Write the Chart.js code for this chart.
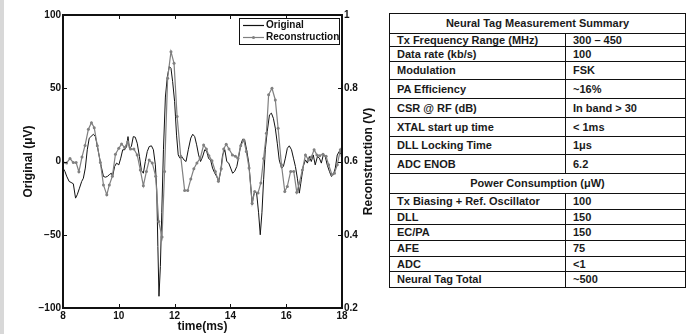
<!DOCTYPE html>
<html>
<head>
<meta charset="utf-8">
<script src="https://cdn.jsdelivr.net/npm/chart.js@4.4.1/dist/chart.umd.min.js"></script>
<style>
  html, body { margin: 0; padding: 0; background: #fff; }
  body { width: 696px; height: 334px; position: relative; overflow: hidden; font-family: "Liberation Sans", Arial, sans-serif; }
  .edge { position: absolute; left: 0; top: 0; width: 4px; height: 334px; background: #d8d8d8; }
  #chart-wrap { position: absolute; left: 0; top: 0; width: 382px; height: 334px; }
  table.summary { position: absolute; left: 389px; top: 13px; width: 297px; border-collapse: collapse; table-layout: fixed;
    font-weight: bold; font-size: 11px; color: #1a1a1a; }
  .summary td { border: 1px solid #111; padding: 0 0 0 7px; line-height: 11px; white-space: nowrap; overflow: hidden; }
  .summary td.head { text-align: center; padding: 0; }
</style>
</head>
<body>
<div class="edge"></div>
<div id="chart-wrap"><canvas id="sig" width="382" height="334"></canvas></div>

<table class="summary">
  <colgroup><col style="width:176px"><col></colgroup>
  <tr style="height:20px"><td class="head" colspan="2">Neural Tag Measurement Summary</td></tr>
  <tr style="height:13px"><td>Tx Frequency Range (MHz)</td><td>300 – 450</td></tr>
  <tr style="height:15px"><td>Data rate (kb/s)</td><td>100</td></tr>
  <tr style="height:18px"><td>Modulation</td><td>FSK</td></tr>
  <tr style="height:19px"><td>PA Efficiency</td><td>~16%</td></tr>
  <tr style="height:19px"><td>CSR @ RF (dB)</td><td>In band &gt; 30</td></tr>
  <tr style="height:19px"><td>XTAL start up time</td><td>&lt; 1ms</td></tr>
  <tr style="height:18px"><td>DLL Locking Time</td><td>1μs</td></tr>
  <tr style="height:19px"><td>ADC ENOB</td><td>6.2</td></tr>
  <tr style="height:20px"><td class="head" colspan="2">Power Consumption (μW)</td></tr>
  <tr style="height:16px"><td>Tx Biasing + Ref. Oscillator</td><td>100</td></tr>
  <tr style="height:15px"><td>DLL</td><td>150</td></tr>
  <tr style="height:16px"><td>EC/PA</td><td>150</td></tr>
  <tr style="height:16px"><td>AFE</td><td>75</td></tr>
  <tr style="height:15px"><td>ADC</td><td>&lt;1</td></tr>
  <tr style="height:16px"><td>Neural Tag Total</td><td>~500</td></tr>
</table>

<script>
// original recording, time in ms / amplitude in uV
const origTime = [
  8.0, 8.07, 8.13, 8.22, 8.29, 8.37, 8.45, 8.51, 8.59, 8.67,
  8.73, 8.8, 8.87, 8.94, 9.0, 9.09, 9.16, 9.23, 9.3, 9.37,
  9.45, 9.52, 9.59, 9.66, 9.73, 9.78, 9.85, 9.92, 10.0, 10.07,
  10.14, 10.21, 10.28, 10.33, 10.38, 10.45, 10.52, 10.59, 10.66, 10.74,
  10.81, 10.88, 10.95, 11.02, 11.09, 11.17, 11.24, 11.31, 11.36, 11.4,
  11.44, 11.49, 11.54, 11.6, 11.67, 11.74, 11.81, 11.87, 11.93, 12.0,
  12.07, 12.13, 12.19, 12.27, 12.34, 12.41, 12.49, 12.58, 12.65, 12.72,
  12.79, 12.86, 12.93, 13.0, 13.08, 13.15, 13.22, 13.29, 13.36, 13.44,
  13.51, 13.58, 13.65, 13.72, 13.8, 13.87, 13.94, 14.01, 14.08, 14.15,
  14.23, 14.3, 14.37, 14.44, 14.51, 14.58, 14.66, 14.73, 14.78, 14.82,
  14.87, 14.94, 15.01, 15.07, 15.13, 15.19, 15.25, 15.32, 15.4, 15.47,
  15.54, 15.61, 15.68, 15.75, 15.83, 15.9, 15.97, 16.04, 16.11, 16.19,
  16.26, 16.33, 16.4, 16.47, 16.54, 16.61, 16.69, 16.76, 16.83, 16.9,
  16.97, 17.04, 17.12, 17.19, 17.26, 17.33, 17.4, 17.47, 17.55, 17.62,
  17.69, 17.76, 17.83, 17.9, 17.98
];
const origValue = [
  -4.5, -6.8, -10, -13.6, -14.3, -15.2, -25, -22.7, -18.2, -13.6,
  -11.4, -4.5, 8, 15.9, 17, 18.6, 17, 10.7, 3.4, -3.4,
  -10.2, -10.7, -10.2, -9, -8, -10, -3.4, -1.1, -2.3, 2.3,
  8, 8, 10.2, 17, 9, 10.2, 17, 16.6, 12.5, 3.4,
  -6.1, -8, 0, 6.8, 10.2, 10.7, 8, -2.3, -19.3, -58,
  -92, -71.6, -35, 8, 44, 58, 64.8, 63.6, 54.5, 41,
  18, 4.5, 2.3, 3, 1, 0, 8, 16, 18.6, 17,
  11.4, 4.5, 0, 3, 8, 7, 2, 1.1, -4.5, -8,
  -10.2, -13.6, -6.8, 4.5, 8, 0, -1.1, -4.5, -8, -6.8,
  -3.4, 3.4, 11.4, 15.2, 14.8, 8, -1.1, -17, -29.5, -23.9,
  -20.5, -21.6, -35, -50, -35, -12.5, 8, 20.5, 31.8, 33,
  29.5, 22.7, 12.5, 1.1, -4.5, -3.4, 2.3, 9, 10.7, 8,
  2.3, -3.4, -11.4, -21.6, -12.5, -3.4, 1.1, -1.1, 3.4, 0,
  4.5, -2.3, 3.4, 2.3, -1.1, 4.5, 3.4, -2.3, -6.8, -10.2,
  -9, -4.5, 4.5, 6.8, 4.5
];

// reconstructed signal, time in ms / volts (right axis)
const reconTime = [
  8.01, 8.13, 8.25, 8.37, 8.47, 8.57, 8.68, 8.79, 8.91, 9.02,
  9.12, 9.23, 9.34, 9.45, 9.57, 9.66, 9.77, 9.88, 10.0, 10.1,
  10.21, 10.32, 10.42, 10.54, 10.66, 10.77, 10.88, 10.99, 11.09, 11.2,
  11.32, 11.43, 11.55, 11.64, 11.75, 11.87, 11.98, 12.09, 12.22, 12.36,
  12.47, 12.58, 12.69, 12.8, 12.92, 13.04, 13.14, 13.23, 13.34, 13.46,
  13.57, 13.67, 13.76, 13.85, 13.95, 14.07, 14.18, 14.27, 14.37, 14.48,
  14.57, 14.67, 14.78, 14.87, 14.99, 15.09, 15.19, 15.29, 15.37, 15.49,
  15.61, 15.71, 15.83, 15.95, 16.04, 16.16, 16.27, 16.38, 16.47, 16.58,
  16.69, 16.8, 16.9, 17.0, 17.1, 17.2, 17.32, 17.43, 17.52, 17.64,
  17.73, 17.83, 17.94, 18.0
];
const reconValue = [
  0.597, 0.596, 0.608, 0.597, 0.597, 0.572, 0.612, 0.644, 0.688, 0.706,
  0.692, 0.643, 0.597, 0.536, 0.509, 0.536, 0.560, 0.620, 0.636, 0.648,
  0.638, 0.654, 0.634, 0.634, 0.618, 0.577, 0.534, 0.573, 0.604, 0.596,
  0.560, 0.436, 0.394, 0.573, 0.827, 0.900, 0.868, 0.723, 0.614, 0.521,
  0.521, 0.552, 0.580, 0.596, 0.609, 0.645, 0.634, 0.616, 0.602, 0.573,
  0.546, 0.580, 0.634, 0.647, 0.634, 0.618, 0.614, 0.609, 0.643, 0.659,
  0.627, 0.582, 0.486, 0.518, 0.514, 0.541, 0.608, 0.677, 0.782, 0.800,
  0.768, 0.691, 0.591, 0.518, 0.532, 0.573, 0.573, 0.516, 0.541, 0.577,
  0.618, 0.604, 0.612, 0.632, 0.618, 0.616, 0.620, 0.614, 0.591, 0.564,
  0.568, 0.591, 0.632, 0.616
];

const timeTicks = [8, 10, 12, 14, 16, 18];
const origTicks = [-100, -50, 0, 50, 100];
const reconTicks = [0.2, 0.4, 0.6, 0.8, 1];

const FONT = "'Liberation Sans', Arial, sans-serif";
const tickFont = { family: FONT, size: 10, weight: "bold" };
const INK = "#111";

const toPoints = (xs, ys) => xs.map((x, i) => ({ x: x, y: ys[i] }));
const fixTicks = (list) => (scale) => { scale.ticks = list.map(v => ({ value: v })); };

// matlab style frame, inward ticks, right label and boxed legend
const matlabFrame = {
  id: "matlabFrame",
  afterDatasetsDraw(chart) {
    const { ctx, chartArea: a, scales } = chart;
    ctx.save();
    ctx.strokeStyle = INK;
    ctx.lineWidth = 1;
    ctx.beginPath();
    scales.x.ticks.forEach(t => {
      const px = Math.round(scales.x.getPixelForValue(t.value)) + 0.5;
      ctx.moveTo(px, a.bottom); ctx.lineTo(px, a.bottom - 4);
      ctx.moveTo(px, a.top); ctx.lineTo(px, a.top + 4);
    });
    scales.y.ticks.forEach(t => {
      const py = Math.round(scales.y.getPixelForValue(t.value)) + 0.5;
      ctx.moveTo(a.left, py); ctx.lineTo(a.left + 4, py);
    });
    scales.y2.ticks.forEach(t => {
      const py = Math.round(scales.y2.getPixelForValue(t.value)) + 0.5;
      ctx.moveTo(a.right, py); ctx.lineTo(a.right - 4, py);
    });
    ctx.stroke();
    ctx.lineWidth = 2;
    ctx.strokeRect(a.left, a.top, a.right - a.left, a.bottom - a.top);

    // right axis title, reads bottom to top
    ctx.fillStyle = INK;
    ctx.font = "bold 12px " + FONT;
    ctx.textAlign = "center";
    ctx.textBaseline = "middle";
    ctx.translate(369, (a.top + a.bottom) / 2);
    ctx.rotate(-Math.PI / 2);
    ctx.fillText("Reconstruction (V)", 0, 0);
    ctx.setTransform(1, 0, 0, 1, 0, 0);

    // legend
    const bx = a.right - 103, by = a.top + 3, bw = 100, bh = 26;
    ctx.fillStyle = "#fff";
    ctx.fillRect(bx, by, bw, bh);
    ctx.lineWidth = 1;
    ctx.strokeStyle = INK;
    ctx.strokeRect(bx + 0.5, by + 0.5, bw, bh);
    ctx.font = "bold 10px " + FONT;
    ctx.textAlign = "left";
    chart.data.datasets.forEach((ds, i) => {
      const y = by + 7.5 + i * 12;
      ctx.strokeStyle = ds.borderColor;
      ctx.lineWidth = 1.2;
      ctx.beginPath();
      ctx.moveTo(bx + 4, y); ctx.lineTo(bx + 25, y);
      ctx.stroke();
      if (ds.pointRadius > 0) {
        ctx.fillStyle = ds.pointBackgroundColor;
        ctx.beginPath();
        ctx.arc(bx + 14.5, y, ds.pointRadius, 0, Math.PI * 2);
        ctx.fill();
      }
      ctx.fillStyle = INK;
      ctx.fillText(ds.label, bx + 27, y);
    });
    ctx.restore();
  }
};

new Chart(document.getElementById("sig"), {
  type: "line",
  data: {
    datasets: [
      {
        label: "Original",
        data: toPoints(origTime, origValue),
        yAxisID: "y",
        borderColor: "#111",
        borderWidth: 1,
        pointRadius: 0,
        tension: 0,
        order: 2
      },
      {
        label: "Reconstruction",
        data: toPoints(reconTime, reconValue),
        yAxisID: "y2",
        borderColor: "#808080",
        borderWidth: 1.2,
        pointRadius: 1.5,
        pointBackgroundColor: "#808080",
        pointBorderWidth: 0,
        tension: 0,
        order: 1
      }
    ]
  },
  options: {
    responsive: false,
    animation: false,
    devicePixelRatio: 1,
    layout: { padding: { top: 15, right: 0, bottom: 0, left: 0 } },
    plugins: { legend: { display: false }, tooltip: { enabled: false } },
    scales: {
      x: {
        type: "linear", min: 8, max: 18,
        afterBuildTicks: fixTicks(timeTicks),
        afterFit: s => { s.height = 26; },
        grid: { display: false, drawTicks: false },
        border: { display: false },
        ticks: { font: tickFont, color: INK, padding: 2, maxRotation: 0 },
        title: { display: true, text: "time(ms)", color: INK, font: { family: FONT, size: 12, weight: "bold" }, padding: { top: 0, bottom: 0 } }
      },
      y: {
        type: "linear", position: "left", min: -100, max: 100,
        afterBuildTicks: fixTicks(origTicks),
        afterFit: s => { s.width = 63; },
        grid: { display: false, drawTicks: false },
        border: { display: false },
        ticks: { font: tickFont, color: INK, padding: 2, callback: v => String(v).replace("-", "\u2212") },
        title: { display: true, text: "Original (μV)", color: INK, font: { family: FONT, size: 12, weight: "bold" }, padding: { top: 21, bottom: 0 } }
      },
      y2: {
        type: "linear", position: "right", min: 0.2, max: 1,
        afterBuildTicks: fixTicks(reconTicks),
        afterFit: s => { s.width = 40; },
        grid: { display: false, drawTicks: false },
        border: { display: false },
        ticks: { font: tickFont, color: INK, padding: 2, callback: v => String(Math.round(v * 10) / 10) }
      }
    }
  },
  plugins: [matlabFrame]
});
</script>
</body>
</html>
